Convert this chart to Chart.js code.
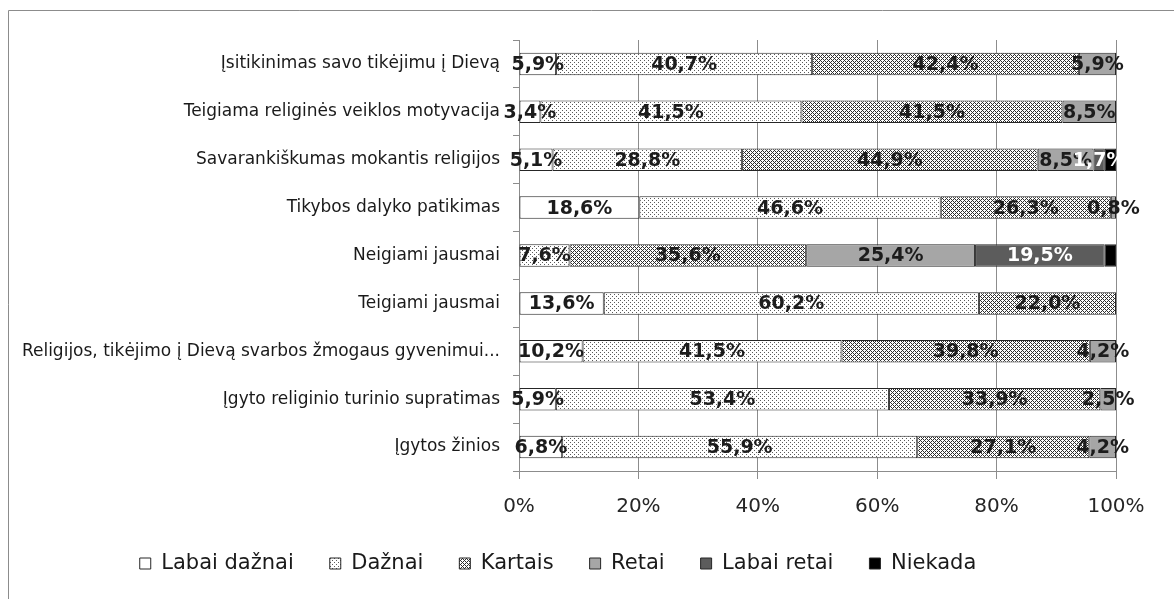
<!DOCTYPE html>
<html>
<head>
<meta charset="utf-8">
<script src="https://cdn.jsdelivr.net/npm/chart.js@4.4.1/dist/chart.umd.min.js"></script>
<style>
    html, body { margin: 0; padding: 0; background: #fff; }
    #wrap { position: relative; width: 1174px; height: 599px; }
</style>
</head>
<body>
<div id="wrap"><canvas id="survey"></canvas></div>
<script>
const categories = [
    'Įsitikinimas savo tikėjimu į Dievą',
    'Teigiama religinės veiklos motyvacija',
    'Savarankiškumas mokantis religijos',
    'Tikybos dalyko patikimas',
    'Neigiami jausmai',
    'Teigiami jausmai',
    'Religijos, tikėjimo į Dievą svarbos žmogaus gyvenimui...',
    'Įgyto religinio turinio supratimas',
    'Įgytos žinios'
];

const seriesNames = ['Labai dažnai', 'Dažnai', 'Kartais', 'Retai', 'Labai retai', 'Niekada'];

// answer shares in %, rows follow categories
const labaiDaznai = [5.9, 3.4, 5.1, 18.6, 0, 13.6, 10.2, 5.9, 6.8];
const daznai      = [40.7, 41.5, 28.8, 46.6, 7.6, 60.2, 41.5, 53.4, 55.9];
const kartais     = [42.4, 41.5, 44.9, 26.3, 35.6, 22.0, 39.8, 33.9, 27.1];
const retai       = [5.9, 8.5, 8.5, 0.8, 25.4, 0, 4.2, 2.5, 4.2];
const labaiRetai  = [0, 0, 1.7, 0, 19.5, 0, 0, 0, 0];
const niekada     = [0, 0, 1.7, 0, 1.7, 0, 0, 0, 0];

const xTickValues = [0, 20, 40, 60, 80, 100];
const xTickLabels = ['0%', '20%', '40%', '60%', '80%', '100%'];

const FONT = '"DejaVu Sans", sans-serif';

function makePattern(size, dark, dots) {
    const c = document.createElement('canvas');
    c.width = size;
    c.height = size;
    const g = c.getContext('2d');
    g.fillStyle = '#ffffff';
    g.fillRect(0, 0, size, size);
    g.fillStyle = dark;
    dots.forEach(([x, y]) => g.fillRect(x, y, 1, 1));
    return g.createPattern(c, 'repeat');
}

const dotFill = makePattern(4, '#5a5a5a', [[0, 0], [2, 2]]);
const crossFill = makePattern(4, '#2e2e2e', [[0, 0], [1, 1], [2, 2], [3, 3], [1, 3], [3, 1]]);

const series = [labaiDaznai, daznai, kartais, retai, labaiRetai, niekada];
const fills = ['#ffffff', dotFill, crossFill, '#a6a6a6', '#5c5c5c', '#000000'];
const valueColors = ['#1c1c1c', '#1c1c1c', '#1c1c1c', '#1c1c1c', '#ffffff', null];

// 100% stacked: each row is scaled to its own total
const rowTotals = categories.map((c, i) => series.reduce((s, arr) => s + arr[i], 0));

const datasets = series.map((values, k) => ({
    label: seriesNames[k],
    data: values.map((v, i) => v / rowTotals[i] * 100),
    rawValues: values,
    valueColor: valueColors[k],
    backgroundColor: fills[k],
    borderColor: '#262626',
    borderWidth: 1,
    borderSkipped: false,
    barPercentage: 0.47,
    categoryPercentage: 1.0
}));

const valueLabels = {
    id: 'valueLabels',
    afterDatasetsDraw(chart) {
        const ctx = chart.ctx;
        ctx.save();
        ctx.font = 'bold 19px ' + FONT;
        ctx.textAlign = 'center';
        ctx.textBaseline = 'middle';
        chart.data.datasets.forEach((ds, di) => {
            if (!ds.valueColor) return;
            chart.getDatasetMeta(di).data.forEach((bar, i) => {
                const v = ds.rawValues[i];
                if (!v) return;
                ctx.fillStyle = ds.valueColor;
                ctx.fillText(v.toFixed(1).replace('.', ',') + '%', (bar.x + bar.base) / 2, bar.y + 1);
            });
        });
        ctx.restore();
    }
};

const frame = {
    id: 'frame',
    beforeDraw(chart) {
        const ctx = chart.ctx;
        ctx.save();
        ctx.strokeStyle = '#8c8c8c';
        ctx.lineWidth = 1;
        ctx.beginPath();
        ctx.moveTo(8.5, chart.height);
        ctx.lineTo(8.5, 10.5);
        ctx.lineTo(chart.width, 10.5);
        ctx.stroke();
        ctx.restore();
    }
};

new Chart(document.getElementById('survey'), {
    type: 'bar',
    data: { labels: categories, datasets: datasets },
    plugins: [frame, valueLabels],
    options: {
        indexAxis: 'y',
        animation: false,
        responsive: true,
        maintainAspectRatio: false,
        layout: { padding: { top: 40, right: 58, bottom: 15, left: 0 } },
        plugins: {
            tooltip: { enabled: false },
            legend: {
                position: 'bottom',
                labels: {
                    boxWidth: 11,
                    boxHeight: 11,
                    padding: 36,
                    color: '#1a1a1a',
                    font: { family: FONT, size: 21 }
                }
            }
        },
        scales: {
            x: {
                stacked: true,
                min: 0,
                max: 100,
                afterBuildTicks: (scale) => { scale.ticks = xTickValues.map(v => ({ value: v })); },
                afterFit: (scale) => { scale.height = 46; },
                grid: { color: '#8c8c8c', tickLength: 8 },
                border: { color: '#8c8c8c' },
                ticks: {
                    padding: 16,
                    color: '#262626',
                    font: { family: FONT, size: 20 },
                    callback: (v, i) => xTickLabels[i]
                }
            },
            y: {
                stacked: true,
                afterFit: (scale) => { scale.width = 519; },
                grid: { drawOnChartArea: false, color: '#8c8c8c', tickLength: 6 },
                border: { color: '#8c8c8c' },
                ticks: {
                    padding: 13,
                    color: '#1a1a1a',
                    font: { family: FONT, size: 17 }
                }
            }
        }
    }
});
</script>
</body>
</html>
